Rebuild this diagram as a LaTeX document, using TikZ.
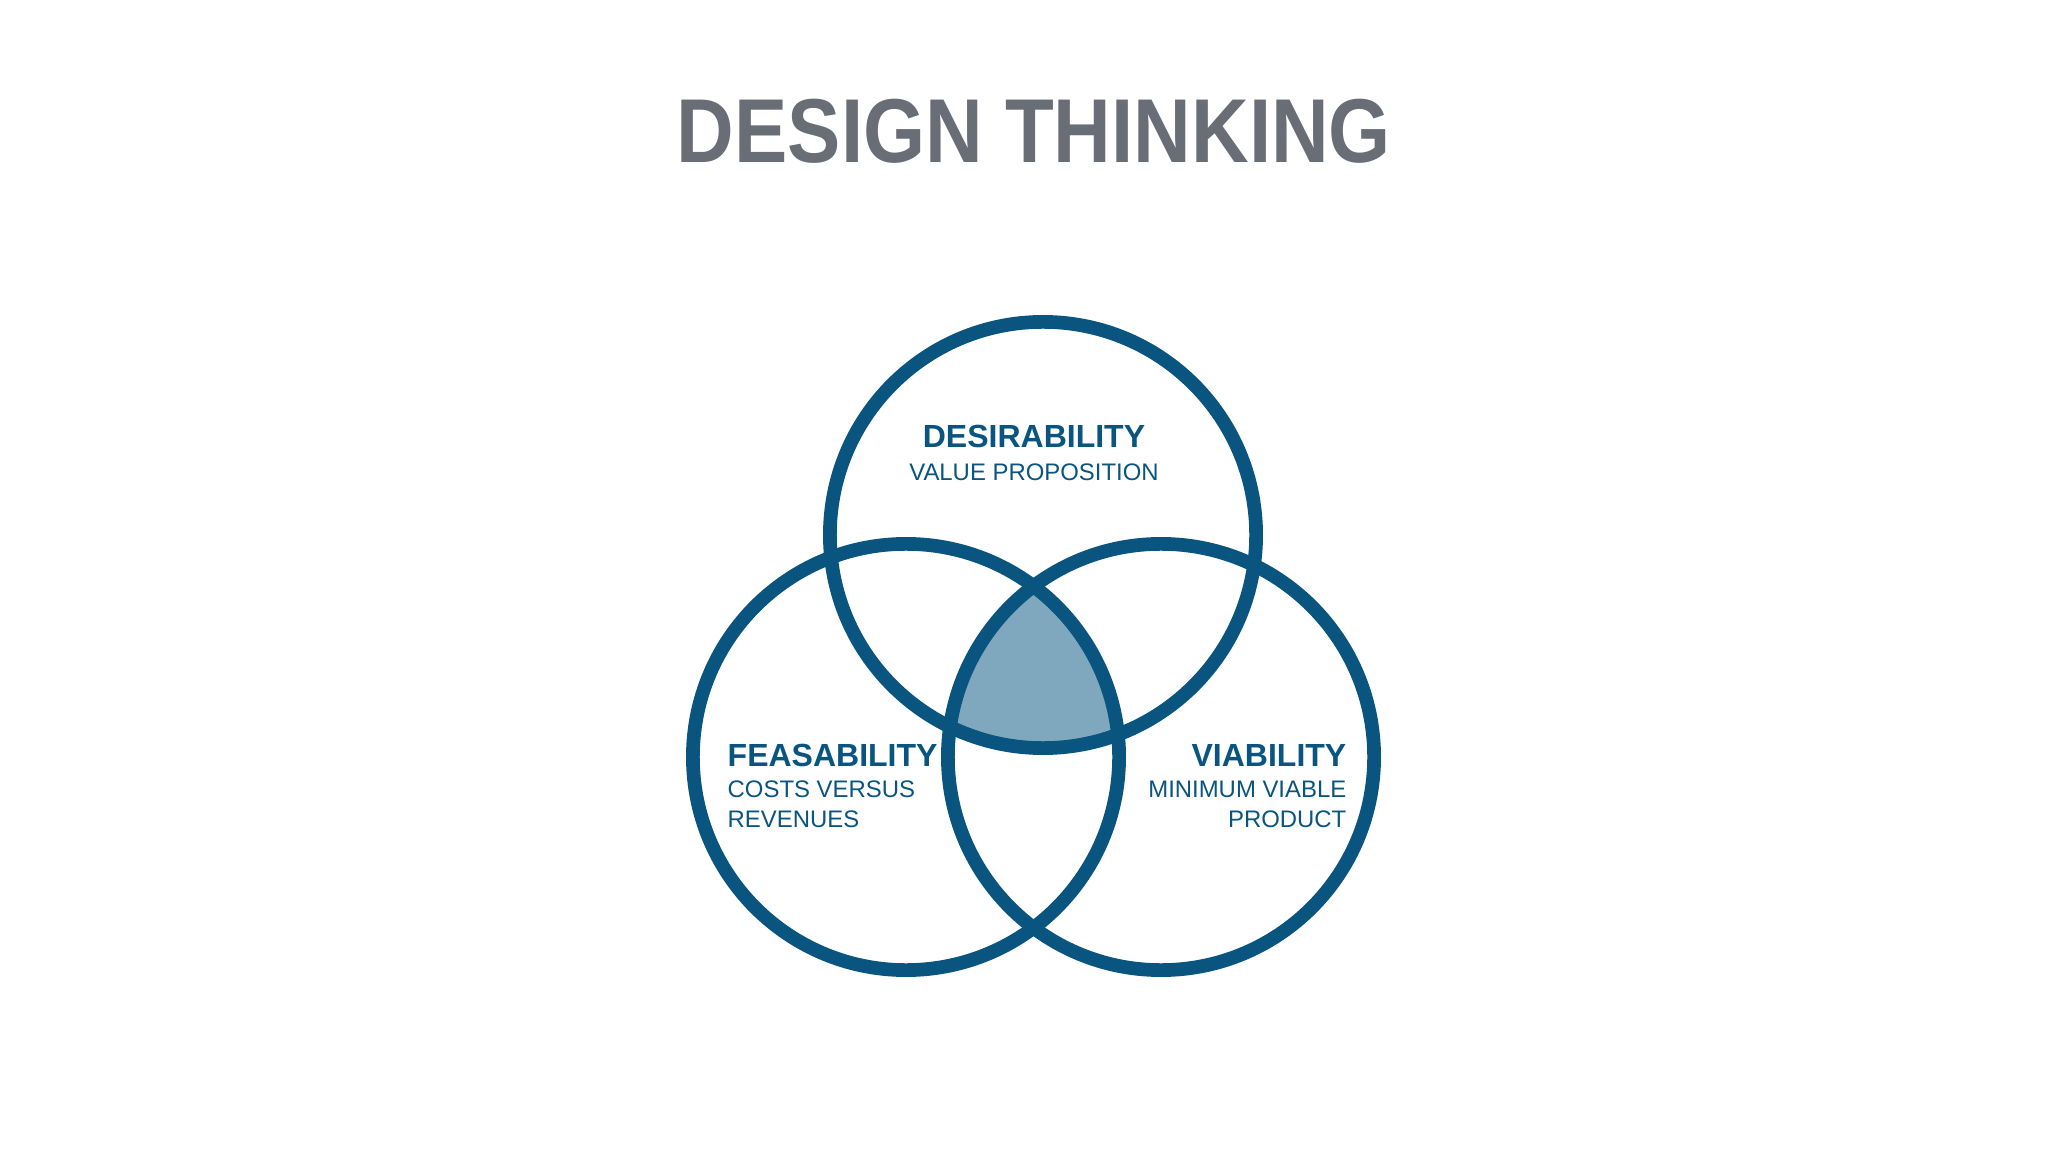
\documentclass[tikz,border=0pt]{standalone}
\usepackage{fontspec}
\setmainfont{Liberation Sans}
\usepackage{graphicx}
\definecolor{ringblue}{HTML}{0A5580}
\definecolor{coreblue}{HTML}{7FA8BF}
\definecolor{titlegray}{HTML}{686D76}

\begin{document}
\begin{tikzpicture}[x=0.01cm,y=-0.01cm,
  ring/.style={draw=ringblue,line width=3.9pt},
  head/.style={inner sep=0pt,text=ringblue,font=\fontsize{9.1pt}{11pt}\selectfont\bfseries},
  sub/.style={inner sep=0pt,text=ringblue,font=\fontsize{6.8pt}{8pt}\selectfont}]
\useasboundingbox[fill=white] (0,0) rectangle (2048,1152);
\pgfmathsetmacro\rr{2.13}

\coordinate (top) at (1043,535);
\coordinate (left) at (906,757);
\coordinate (right) at (1161,757);

% title
\node[inner sep=0pt,anchor=base,text=titlegray,font=\fontsize{25.8pt}{30pt}\selectfont\bfseries]
  (title) at (1034,163) {\scalebox{0.88}[1]{DESIGN THINKING}};

% shared core
\begin{scope}
\clip (top) circle (\rr cm);
\clip (left) circle (\rr cm);
\fill[coreblue] (right) circle (\rr cm);
\end{scope}

\draw[ring] (top) circle (\rr cm);
\draw[ring] (left) circle (\rr cm);
\draw[ring] (right) circle (\rr cm);

% labels
\node[head,anchor=base] (desir) at (1034,448) {DESIRABILITY};
\node[sub,anchor=base] (desirsub) at (1034,481) {VALUE PROPOSITION};

\node[head,anchor=base west] (feas) at (727,766) {FEASABILITY};
\node[sub,anchor=base west] (feassuba) at (727,797) {COSTS VERSUS};
\node[sub,anchor=base west] (feassubb) at (727,827) {REVENUES};

\node[head,anchor=base east] (viab) at (1347,766) {VIABILITY};
\node[sub,anchor=base east] (viabsuba) at (1347,797) {MINIMUM VIABLE};
\node[sub,anchor=base east] (viabsubb) at (1347,827) {PRODUCT};
\end{tikzpicture}
\end{document}
